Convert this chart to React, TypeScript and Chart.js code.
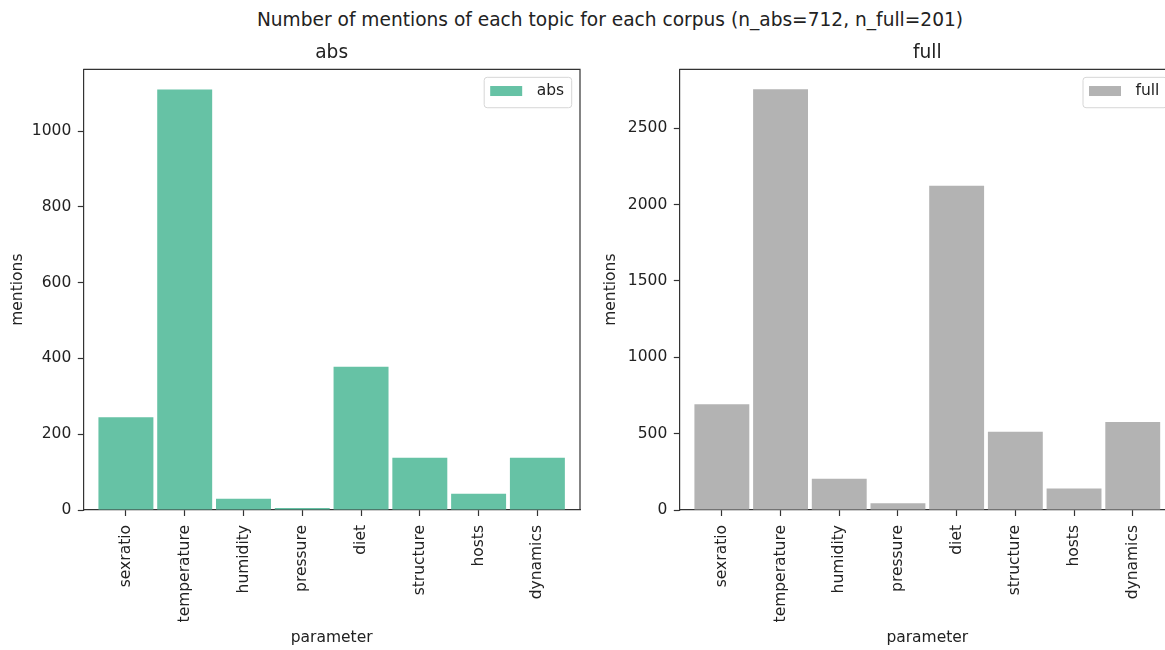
import React, { useEffect, useRef } from "react";
import { Chart, registerables } from "chart.js";

Chart.register(...registerables);

const categories = ["sexratio", "temperature", "humidity", "pressure", "diet", "structure", "hosts", "dynamics"];
const absValues = [245, 1110, 30, 5, 378, 138, 43, 138];
const fullValues = [692, 2755, 205, 44, 2122, 513, 140, 576];
const absTicks = [0, 200, 400, 600, 800, 1000];
const fullTicks = [0, 500, 1000, 1500, 2000, 2500];
const absMax = 1163;
const fullMax = 2885;
const suptitle = "Number of mentions of each topic for each corpus (n_abs=712, n_full=201)";

const FONT = "'DejaVu Sans', sans-serif";
const TEXT = "#222222";
const SPINE = "#333333";
const SMALL = 15.5;
const LARGE = 18.6;

const framePlugin = {
  id: "frameBox",
  afterDraw(chart: any) {
    const { ctx, chartArea: a } = chart;
    ctx.save();
    ctx.strokeStyle = SPINE;
    ctx.lineWidth = 1.2;
    ctx.beginPath();
    ctx.moveTo(a.left, a.top);
    ctx.lineTo(a.right, a.top);
    ctx.lineTo(a.right, a.bottom);
    ctx.stroke();
    ctx.restore();
  },
};

const legendPlugin = {
  id: "mplLegend",
  afterDraw(chart: any) {
    const { ctx, chartArea: a } = chart;
    const ds = chart.data.datasets[0];
    ctx.save();
    ctx.font = `${SMALL}px ${FONT}`;
    const tw = ctx.measureText(ds.label).width;
    const w = 6 + 32 + 14.5 + tw + 7.6;
    const h = 30.4;
    const right = a.right - 8.3;
    const left = right - w;
    const top = a.top + 8;
    ctx.beginPath();
    ctx.roundRect(left, top, w, h, 3);
    ctx.fillStyle = "rgba(255,255,255,0.8)";
    ctx.fill();
    ctx.strokeStyle = "#d6d6d6";
    ctx.lineWidth = 1;
    ctx.stroke();
    ctx.fillStyle = ds.backgroundColor;
    ctx.fillRect(left + 6, top + 8.7, 32, 10);
    ctx.fillStyle = TEXT;
    ctx.textBaseline = "middle";
    ctx.textAlign = "left";
    ctx.fillText(ds.label, left + 6 + 32 + 14.5, top + 13.5);
    ctx.restore();
  },
};

type PanelProps = {
  title: string;
  label: string;
  color: string;
  values: number[];
  yTicks: number[];
  yMax: number;
  left: number;
  yAxisWidth: number;
  padRight: number;
  yTitlePad: number;
};

function Panel(p: PanelProps) {
  const ref = useRef<HTMLCanvasElement | null>(null);
  useEffect(() => {
    if (!ref.current) return;
    const chart = new Chart(ref.current, {
      type: "bar",
      data: {
        datasets: [
          {
            label: p.label,
            data: p.values.map((v, i) => ({ x: i, y: v })),
            backgroundColor: p.color,
            borderWidth: 0,
            barPercentage: 0.935,
            categoryPercentage: 1,
          },
        ],
      },
      options: {
        responsive: false,
        animation: false,
        devicePixelRatio: 1,
        layout: { padding: { top: 0, left: 0, right: p.padRight, bottom: 0 } },
        plugins: {
          legend: { display: false },
          tooltip: { enabled: false },
          title: {
            display: true,
            text: p.title,
            fullSize: false,
            color: TEXT,
            font: { family: FONT, size: LARGE, weight: "normal", lineHeight: 1.2 },
            padding: { top: 41.8, bottom: 5.2 },
          },
        },
        scales: {
          x: {
            type: "linear",
            min: -0.725,
            max: 7.725,
            offset: false,
            grid: {
              offset: false,
              drawOnChartArea: false,
              drawTicks: true,
              tickLength: 6,
              tickColor: SPINE,
              tickWidth: 1.2,
            },
            border: { display: true, color: SPINE, width: 1.2 },
            afterBuildTicks: (scale: any) => {
              scale.ticks = categories.map((_, i) => ({ value: i }));
            },
            afterFit: (scale: any) => {
              scale.height = 140;
            },
            ticks: {
              autoSkip: false,
              minRotation: 90,
              maxRotation: 90,
              padding: 9,
              color: TEXT,
              font: { family: FONT, size: SMALL },
              callback: (v: any) => categories[Math.round(Number(v))] ?? "",
            },
            title: {
              display: true,
              text: "parameter",
              color: TEXT,
              font: { family: FONT, size: SMALL, lineHeight: 1.2 },
              padding: { top: 0, bottom: 3.1 },
            },
          },
          y: {
            type: "linear",
            min: 0,
            max: p.yMax,
            grid: {
              drawOnChartArea: false,
              drawTicks: true,
              tickLength: 5.5,
              tickColor: SPINE,
              tickWidth: 1.2,
            },
            border: { display: true, color: SPINE, width: 1.2 },
            afterBuildTicks: (scale: any) => {
              scale.ticks = p.yTicks.map((v) => ({ value: v }));
            },
            afterFit: (scale: any) => {
              scale.width = p.yAxisWidth;
            },
            ticks: {
              padding: 6.5,
              color: TEXT,
              font: { family: FONT, size: SMALL },
              callback: (v: any) => String(v),
            },
            title: {
              display: true,
              text: "mentions",
              color: TEXT,
              font: { family: FONT, size: SMALL, lineHeight: 1.2 },
              padding: { top: p.yTitlePad, bottom: 0 },
            },
          },
        },
      } as any,
      plugins: [framePlugin, legendPlugin],
    });
    return () => chart.destroy();
  }, []);
  return (
    <canvas
      ref={ref}
      width={600}
      height={650}
      style={{ position: "absolute", left: p.left, top: 0, width: 600, height: 650 }}
    />
  );
}

export default function App() {
  return (
    <div
      style={{
        position: "fixed",
        left: 0,
        top: 0,
        width: 1165,
        height: 650,
        overflow: "hidden",
        background: "#ffffff",
      }}
    >
      <div
        style={{
          position: "absolute",
          left: 0,
          top: 8.6,
          width: 1220,
          textAlign: "center",
          fontFamily: FONT,
          fontSize: LARGE,
          lineHeight: "22px",
          color: TEXT,
          whiteSpace: "nowrap",
        }}
      >
        {suptitle}
      </div>
      <Panel
        title="abs"
        label="abs"
        color="#66c2a5"
        values={absValues}
        yTicks={absTicks}
        yMax={absMax}
        left={0}
        yAxisWidth={83.3}
        padRight={20}
        yTitlePad={8.6}
      />
      <Panel
        title="full"
        label="full"
        color="#b3b3b3"
        values={fullValues}
        yTicks={fullTicks}
        yMax={fullMax}
        left={600}
        yAxisWidth={79.3}
        padRight={24.7}
        yTitlePad={2}
      />
    </div>
  );
}
